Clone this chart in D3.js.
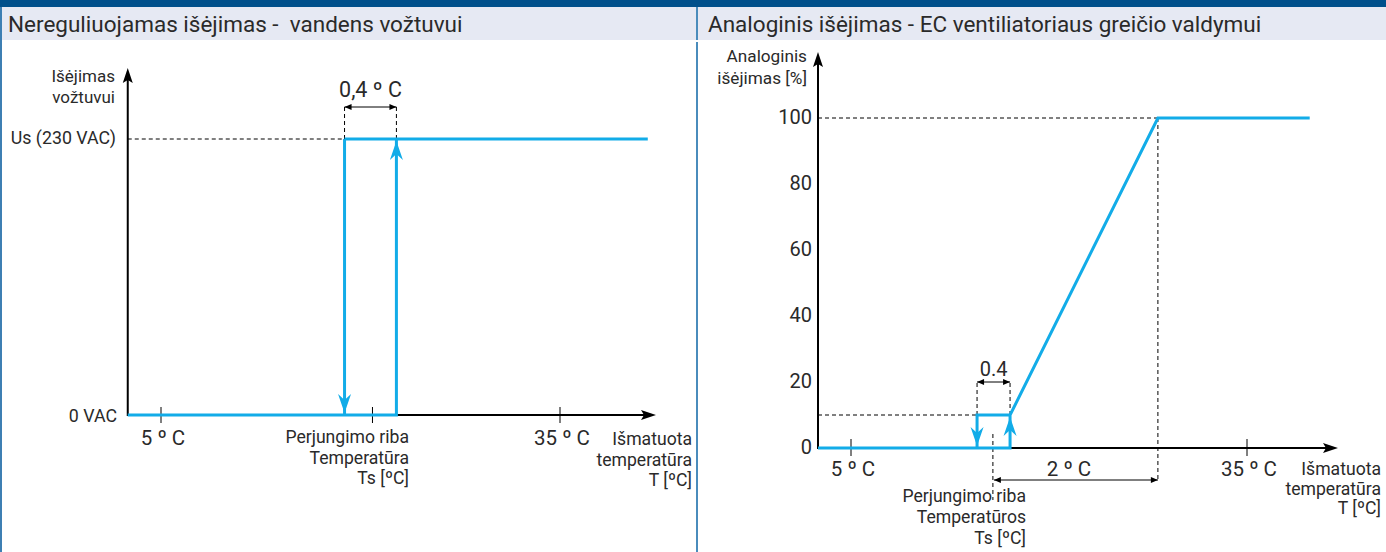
<!DOCTYPE html>
<html><head><meta charset="utf-8">
<script src="https://cdn.jsdelivr.net/npm/d3@7"></script>
<style>
html,body{margin:0;padding:0;background:#fff;}
svg{display:block;}
text{font-family:Roboto,"Noto Sans",sans-serif;fill:#2a2a2a;white-space:pre;}
</style></head>
<body>
<svg id="c" width="1386" height="552"></svg>
<script>
// ---------- data ----------
const panelTitles = ["Nereguliuojamas išėjimas -  vandens vožtuvui", "Analoginis išėjimas - EC ventiliatoriaus greičio valdymui"];

// left chart (on/off valve output)
const leftYTitle = ["Išėjimas", "vožtuvui"];
const leftLevels = [0, 1];
const leftLevelLabels = ["0 VAC", "Us (230 VAC)"];
const leftTempTicks = [5, 35];
const leftTempLabels = ["5 º C", "35 º C"];
const leftTs = 20.9;
const leftTsLabel = ["Perjungimo riba", "Temperatūra", "Ts [ºC]"];
const leftOff = 18.8, leftOn = 22.7, leftEnd = 41.6;
const leftHystLabel = "0,4 º C";
const leftRise = [[2.5, 0], [leftOn, 0], [leftOn, 1]];
const leftHigh = [[leftOff, 1], [leftEnd, 1]];
const leftFall = [[leftOff, 1], [leftOff, 0]];

// right chart (analog EC fan output)
const rightYTitle = ["Analoginis", "išėjimas [%]"];
const rightYTicks = [0, 20, 40, 60, 80, 100];
const rightTempTicks = [5, 35];
const rightTempLabels = ["5 º C", "35 º C"];
const rightTs = 15.75;
const rightTsLabel = ["Perjungimo riba", "Temperatūros", "Ts [ºC]"];
const rightOff = 14.55, rightOn = 17.05, rightFull = 28.25, rightEnd = 39.75;
const rightMin = 10;
const rightHystLabel = "0.4";
const rightBandLabel = "2 º C";
const rightRise = [[2.5, 0], [rightOn, 0], [rightOn, rightMin], [rightFull, 100], [rightEnd, 100]];
const rightFall = [[rightOn, rightMin], [rightOff, rightMin], [rightOff, 0]];

const xTitle = ["Išmatuota", "temperatūra", "T [ºC]"];

// ---------- styles ----------
const BLUE = "#12ace8";
const svg = d3.select("#c");

// frame
svg.append("rect").attr("x",0).attr("y",0).attr("width",1386).attr("height",7).attr("fill","#00508b");
svg.append("rect").attr("x",0).attr("y",7).attr("width",1386).attr("height",33).attr("fill","#e6e9f3");
svg.append("rect").attr("x",0).attr("y",7).attr("width",2).attr("height",545).attr("fill","#3d7fb3");
svg.append("rect").attr("x",696).attr("y",7).attr("width",2).attr("height",33).attr("fill","#4a8cbc");
svg.append("rect").attr("x",696).attr("y",42).attr("width",2).attr("height",510).attr("fill","#4a8cbc");
svg.selectAll("text.title").data(panelTitles).join("text").attr("class","title")
  .attr("x",(d,i)=> i===0 ? 8 : 708).attr("y",32).attr("font-size",22.5).attr("fill","#1e1e1e").text(d=>d);

const line = (x,y)=> d3.line().x(d=>x(d[0])).y(d=>y(d[1]));

function axisArrow(g, x, y, dir){
  const p = dir==="up" ? `M${x},${y} L${x-5},${y+15} L${x},${y+12} L${x+5},${y+15} Z`
                       : `M${x},${y} L${x-15},${y-5} L${x-12},${y} L${x-15},${y+5} Z`;
  g.append("path").attr("d",p).attr("fill","#000");
}
function blueArrow(g, x, y, dir){
  const s = dir==="up" ? 1 : -1;
  const p = `M${x},${y} L${x-6.5},${y+s*19} L${x},${y+s*13} L${x+6.5},${y+s*19} Z`;
  g.append("path").attr("d",p).attr("fill",BLUE);
}
function dimArrow(g, x1, x2, y){
  g.append("line").attr("x1",x1).attr("x2",x2).attr("y1",y).attr("y2",y).attr("stroke","#000").attr("stroke-width",1);
  g.append("path").attr("d",`M${x1},${y} L${x1+7},${y-3} L${x1+7},${y+3} Z`).attr("fill","#000");
  g.append("path").attr("d",`M${x2},${y} L${x2-7},${y-3} L${x2-7},${y+3} Z`).attr("fill","#000");
}
function dashed(g,x1,y1,x2,y2){
  g.append("line").attr("x1",x1).attr("y1",y1).attr("x2",x2).attr("y2",y2)
   .attr("stroke","#000").attr("stroke-width",1).attr("stroke-dasharray","4,3");
}
function multiline(g, lines, x, y, dy, size, anchor){
  lines.forEach((t,i)=> g.append("text").attr("x",x).attr("y",y+i*dy).attr("font-size",size)
     .attr("text-anchor",anchor).text(t));
}

// ---------- left chart ----------
{
  const g = svg.append("g");
  const x = d3.scaleLinear().domain([5,35]).range([161,560]);
  const y = d3.scaleLinear().domain([0,1]).range([415,139]);
  const x0 = x(2.5), y0 = y(0);
  dashed(g, x0, y(1), x(leftOff), y(1));
  dashed(g, x(leftOff), y(1), x(leftOff), 106);
  dashed(g, x(leftOn), y(1), x(leftOn), 106);
  dimArrow(g, x(leftOff), x(leftOn), 107);
  g.append("text").attr("x",(x(leftOff)+x(leftOn))/2).attr("y",97).attr("font-size",21.5)
    .attr("text-anchor","middle").text(leftHystLabel);
  g.append("line").attr("x1",x0).attr("x2",x0).attr("y1",y0+1).attr("y2",74).attr("stroke","#000").attr("stroke-width",2);
  axisArrow(g, x0, 68, "up");
  g.append("line").attr("x1",x0).attr("x2",648).attr("y1",y0).attr("y2",y0).attr("stroke","#000").attr("stroke-width",2);
  axisArrow(g, 656, y0, "right");
  [...leftTempTicks, leftTs].forEach(t=>{
    g.append("line").attr("x1",x(t)).attr("x2",x(t)).attr("y1",y0-8).attr("y2",y0+8).attr("stroke","#000").attr("stroke-width",1);
  });
  g.selectAll("text.xt").data(leftTempTicks).join("text").attr("class","xt")
    .attr("x",d=>x(d)+2).attr("y",445).attr("font-size",20.5).attr("text-anchor","middle")
    .text((d,i)=>leftTempLabels[i]);
  multiline(g, leftTsLabel, 409, 443, 20.5, 17.6, "end");
  multiline(g, xTitle, 692, 445, 20.5, 17.6, "end");
  multiline(g, leftYTitle, 115, 82, 21, 17, "end");
  g.selectAll("text.yl").data(leftLevels).join("text").attr("class","yl")
    .attr("x",d=> d===0 ? 117 : 116).attr("y",d=> d===0 ? y(d)+7 : y(d)+5).attr("font-size",17.8).attr("text-anchor","end")
    .text((d,i)=>leftLevelLabels[i]);
  const ln = line(x,y);
  [leftRise, leftHigh, leftFall].forEach(s=>{
    g.append("path").attr("d",ln(s)).attr("fill","none").attr("stroke",BLUE).attr("stroke-width",3);
  });
  blueArrow(g, x(leftOn), y(1)+2, "up");
  blueArrow(g, x(leftOff), y(0)-2, "down");
}

// ---------- right chart ----------
{
  const g = svg.append("g");
  const x = d3.scaleLinear().domain([5,35]).range([851,1247]);
  const y = d3.scaleLinear().domain([0,100]).range([448,118]);
  const x0 = x(2.5), y0 = y(0);
  dashed(g, x0, y(100), x(rightFull), y(100));
  dashed(g, x0, y(rightMin), x(rightOff), y(rightMin));
  dashed(g, x(rightFull), y(100), x(rightFull), 481);
  dashed(g, x(rightOff), y(rightMin), x(rightOff), 380);
  dashed(g, x(rightOn), y(rightMin), x(rightOn), 380);
  dashed(g, x(rightTs), 434, x(rightTs), 500);
  dimArrow(g, x(rightOff), x(rightOn), 382);
  dimArrow(g, x(rightTs)+1, x(rightFull), 480);
  g.append("text").attr("x",(x(rightOff)+x(rightOn))/2).attr("y",376).attr("font-size",20)
    .attr("text-anchor","middle").text(rightHystLabel);
  g.append("text").attr("x",1069).attr("y",476).attr("font-size",20.5)
    .attr("text-anchor","middle").text(rightBandLabel);
  g.append("line").attr("x1",x0).attr("x2",x0).attr("y1",y0+1).attr("y2",58).attr("stroke","#000").attr("stroke-width",2);
  axisArrow(g, x0, 52, "up");
  g.append("line").attr("x1",x0).attr("x2",1330).attr("y1",y0).attr("y2",y0).attr("stroke","#000").attr("stroke-width",2);
  axisArrow(g, 1338, y0, "right");
  rightTempTicks.forEach(t=>{
    g.append("line").attr("x1",x(t)).attr("x2",x(t)).attr("y1",y0-9).attr("y2",y0+8).attr("stroke","#000").attr("stroke-width",1);
  });
  g.selectAll("text.xt").data(rightTempTicks).join("text").attr("class","xt")
    .attr("x",d=>x(d)+2).attr("y",476).attr("font-size",20.5).attr("text-anchor","middle")
    .text((d,i)=>rightTempLabels[i]);
  g.selectAll("text.yt").data(rightYTicks).join("text").attr("class","yt")
    .attr("x",812).attr("y",d=>y(d)+6).attr("font-size",20).attr("text-anchor","end").text(d=>d);
  multiline(g, rightTsLabel, 1026, 502, 21, 17.6, "end");
  multiline(g, xTitle, 1381, 475, 19.5, 17.6, "end");
  multiline(g, rightYTitle, 807, 62, 22, 17.2, "end");
  const ln = line(x,y);
  [rightRise, rightFall].forEach(s=>{
    g.append("path").attr("d",ln(s)).attr("fill","none").attr("stroke",BLUE).attr("stroke-width",3).attr("stroke-linejoin","miter");
  });
  blueArrow(g, x(rightOn), y(rightMin)+2, "up");
  blueArrow(g, x(rightOff), y0-2, "down");
}
</script>
</body></html>
